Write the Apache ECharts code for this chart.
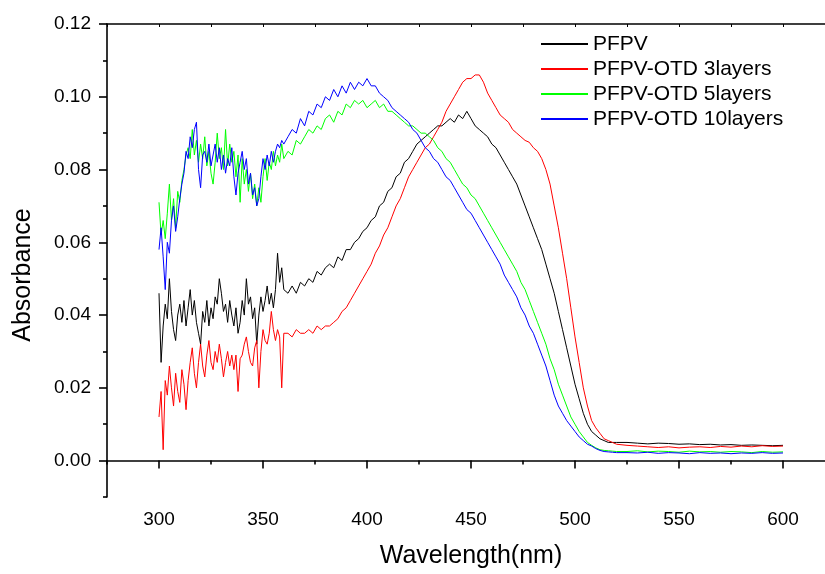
<!DOCTYPE html>
<html><head><meta charset="utf-8">
<script src="https://cdn.jsdelivr.net/npm/echarts@6/dist/echarts.min.js"></script>
<style>html,body{margin:0;padding:0;background:#fff;overflow:hidden}#c{width:825px;height:574px}</style>
</head><body><div id="c"></div>
<script>
const wavelengths = [
300,301,302,303,304,305,306,307,308,309,310,311,312,313,314,315,316,317,318,319,
320,321,322,323,324,325,326,327,328,329,330,331,332,333,334,335,336,337,338,339,
340,341,342,343,344,345,346,347,348,349,350,351,352,353,354,355,356,357,358,359,360,
362,364,366,368,370,372,374,376,378,380,382,384,386,388,390,392,394,396,398,400,
402,404,406,408,410,412,414,416,418,420,422,424,426,428,430,432,434,436,438,440,
442,444,446,448,450,452,454,456,458,460,462,464,466,468,470,472,474,476,478,480,
482,484,486,488,490,492,494,496,498,500,502,504,506,508,510,512,514,516,518,520,
525,530,535,540,545,550,555,560,565,570,575,580,585,590,595,600];

const pfpv = [
.046,.027,.037,.043,.039,.050,.041,.036,.033,.040,
.043,.038,.044,.037,.042,.047,.040,.044,.038,.035,
.032,.041,.038,.044,.037,.042,.039,.045,.043,.050,
.046,.041,.043,.038,.044,.040,.037,.042,.035,.038,
.044,.040,.050,.043,.045,.039,.042,.032,.040,.045,
.041,.044,.048,.043,.046,.042,.047,.057,.049,.053,.047,
.046,.048,.046,.049,.048,.050,.049,.052,.051,.053,
.054,.053,.056,.055,.058,.058,.060,.061,.063,.064,
.066,.067,.070,.071,.074,.075,.078,.079,.082,.083,
.085,.087,.088,.089,.090,.091,.092,.092,.093,.094,
.093,.095,.094,.096,.094,.092,.091,.090,.089,.087,
.086,.084,.082,.080,.078,.076,.073,.070,.067,.064,
.061,.058,.054,.050,.046,.041,.036,.031,.026,.021,
.017,.013,.010,.008,.007,.006,.0055,.005,.005,.005,
.005,.0048,.0046,.0048,.0047,.0045,.0046,.0044,.0045,.0043,.0044,.0042,.0043,.0042,.0041,.0042];

const otd3 = [
.012,.019,.003,.022,.018,.026,.020,.015,.024,.019,
.016,.025,.021,.014,.022,.027,.031,.024,.020,.027,
.032,.026,.023,.029,.033,.027,.025,.030,.027,.032,
.028,.023,.027,.030,.026,.029,.025,.029,.019,.028,
.029,.032,.034,.030,.027,.026,.031,.033,.020,.030,
.036,.033,.032,.035,.041,.036,.033,.036,.034,.020,.035,
.035,.034,.036,.035,.035,.036,.035,.037,.036,.037,
.037,.038,.039,.041,.042,.044,.046,.048,.050,.052,
.054,.057,.059,.062,.064,.067,.070,.072,.075,.078,
.080,.082,.084,.086,.087,.089,.091,.093,.096,.098,
.100,.102,.104,.105,.105,.106,.106,.104,.101,.099,
.097,.095,.094,.093,.091,.090,.089,.088,.0875,.086,
.085,.083,.080,.076,.070,.064,.057,.050,.042,.034,
.027,.020,.015,.011,.009,.0075,.006,.0055,.005,.0045,
.0042,.004,.0038,.0036,.0038,.0035,.0037,.0038,.0036,.0039,.0037,.0040,.0038,.0041,.0039,.0040];

const otd5 = [
.071,.062,.066,.061,.068,.076,.066,.072,.064,.074,
.071,.077,.080,.084,.086,.083,.091,.084,.088,.082,
.087,.083,.089,.081,.085,.079,.076,.082,.090,.083,
.086,.080,.091,.081,.087,.082,.085,.078,.084,.071,
.083,.076,.080,.074,.079,.072,.076,.070,.075,.071,
.078,.083,.077,.082,.080,.085,.081,.084,.082,.087,.083,
.085,.084,.088,.087,.089,.091,.090,.092,.091,.094,
.095,.093,.096,.095,.098,.097,.099,.098,.099,.097,
.098,.099,.097,.098,.096,.096,.095,.094,.093,.092,
.092,.091,.090,.090,.089,.088,.086,.085,.083,.082,
.080,.078,.076,.075,.073,.072,.070,.068,.066,.064,
.062,.060,.058,.056,.054,.052,.049,.047,.044,.041,
.038,.035,.032,.028,.025,.021,.018,.015,.012,.010,
.008,.0065,.005,.0042,.0035,.003,.0028,.0027,.0026,.0025,
.0025,.0027,.0024,.0026,.0025,.0023,.0026,.0024,.0025,.0023,.0025,.0024,.0022,.0025,.0023,.0024];

const otd10 = [
.058,.064,.056,.047,.060,.057,.066,.070,.063,.067,
.072,.076,.079,.085,.083,.089,.086,.091,.093,.080,
.075,.084,.085,.082,.087,.081,.084,.087,.082,.086,
.080,.084,.079,.083,.081,.086,.078,.073,.079,.082,
.085,.080,.083,.076,.079,.073,.075,.070,.072,.078,
.083,.080,.084,.081,.085,.082,.085,.087,.086,.088,.087,
.089,.091,.090,.094,.092,.096,.095,.098,.097,.100,
.099,.102,.100,.103,.101,.104,.102,.104,.103,.105,
.103,.103,.101,.100,.099,.097,.096,.095,.094,.093,
.091,.090,.088,.086,.085,.083,.082,.080,.078,.077,
.075,.073,.071,.069,.068,.066,.064,.062,.060,.058,
.056,.054,.051,.049,.047,.045,.042,.040,.037,.035,
.032,.029,.026,.022,.018,.015,.013,.011,.0095,.008,
.0065,.0055,.0045,.004,.0033,.0028,.0025,.0024,.0023,.0022,
.0022,.0021,.0023,.0020,.0022,.0021,.0019,.0022,.0020,.0021,.0019,.0021,.0020,.0022,.0020,.0021];

const seriesNames = ['PFPV','PFPV-OTD 3layers','PFPV-OTD 5layers','PFPV-OTD 10layers'];
const seriesColors = ['#000000','#ff0000','#00ff00','#0000ff'];
const xMajorTicks = [300,350,400,450,500,550,600];
const xMinorTicks = [275,325,375,425,475,525,575,625];
const yMajorTicks = [0,0.02,0.04,0.06,0.08,0.10,0.12];
const yMinorTicks = [-0.01,0.01,0.03,0.05,0.07,0.09,0.11];
const xTitle = 'Wavelength(nm)';
const yTitle = 'Absorbance';

[pfpv,otd3,otd5,otd10].forEach((a,i)=>{ if(a.length!==wavelengths.length) throw new Error('length mismatch series '+i+': '+a.length+' vs '+wavelengths.length); });

const FONT = 'Arial, "Liberation Sans", sans-serif';
const chart = echarts.init(document.getElementById('c'), null, {renderer:'canvas'});
const axisLine = {show:true, lineStyle:{color:'#000', width:1.6}};
const xMin = 275, xMax = 625, yMin = -0.01, yMax = 0.12;

const series = [pfpv,otd3,otd5,otd10].map((vals,i)=>({
  name: seriesNames[i], type:'line', xAxisIndex:0, yAxisIndex:0,
  data: wavelengths.map((w,j)=>[w, vals[j]]),
  symbol:'none', showSymbol:false, smooth:false,
  lineStyle:{color:seriesColors[i], width:1}, itemStyle:{color:seriesColors[i]},
  emphasis:{disabled:true}, z: 2+i
}));

chart.setOption({
  animation:false,
  backgroundColor:'#fff',
  grid:{left:107, width:728, top:24, bottom:77, containLabel:false, outerBoundsMode:'none'},
  legend:{
    orient:'vertical', left:540, top:33.5, padding:0, itemWidth:47, itemHeight:4, itemGap:4,
    itemStyle:{color:'rgba(0,0,0,0)', borderColor:'rgba(0,0,0,0)', borderWidth:0, opacity:0},
    textStyle:{fontFamily:FONT, fontSize:21, color:'#000', lineHeight:21},
    data: seriesNames
  },
  xAxis:[
    {type:'value', min:xMin, max:xMax, position:'bottom', axisLine,
     axisTick:{show:true, inside:false, length:8, customValues:xMajorTicks, lineStyle:{color:'#000', width:1.6}},
     axisLabel:{show:true, customValues:xMajorTicks, margin:13, fontFamily:FONT, fontSize:19, color:'#000'},
     splitLine:{show:false}},
    {type:'value', min:xMin, max:xMax, position:'bottom', axisLine:{show:false},
     axisTick:{show:true, inside:false, length:4, customValues:xMinorTicks, lineStyle:{color:'#000', width:1.6}},
     axisLabel:{show:false}, splitLine:{show:false}},
    {type:'value', min:xMin, max:xMax, position:'top', axisLine,
     axisTick:{show:true, inside:true, length:3, customValues:xMajorTicks.concat(xMinorTicks), lineStyle:{color:'#000', width:1}},
     axisLabel:{show:false}, splitLine:{show:false}}
  ],
  yAxis:[
    {type:'value', min:yMin, max:yMax, position:'left', axisLine,
     axisTick:{show:true, inside:false, length:8, customValues:yMajorTicks, lineStyle:{color:'#000', width:1.6}},
     axisLabel:{show:true, customValues:yMajorTicks, margin:16, fontFamily:FONT, fontSize:19, color:'#000',
       formatter:v=>Number(v).toFixed(2)},
     splitLine:{show:false}},
    {type:'value', min:yMin, max:yMax, position:'left', offset:0, axisLine:{show:false},
     axisTick:{show:true, inside:false, length:4, customValues:yMinorTicks, lineStyle:{color:'#000', width:1.6}},
     axisLabel:{show:false}, splitLine:{show:false}}
  ],
  graphic:[
    {type:'text', x:471, y:556, silent:true,
     style:{text:xTitle, font:'25px '+FONT, fill:'#000', align:'center', verticalAlign:'middle'}},
    {type:'text', x:23, y:275, rotation:Math.PI/2, silent:true,
     style:{text:yTitle, font:'25px '+FONT, fill:'#000', align:'center', verticalAlign:'middle'}}
  ],
  series
});
</script>
</body></html>
